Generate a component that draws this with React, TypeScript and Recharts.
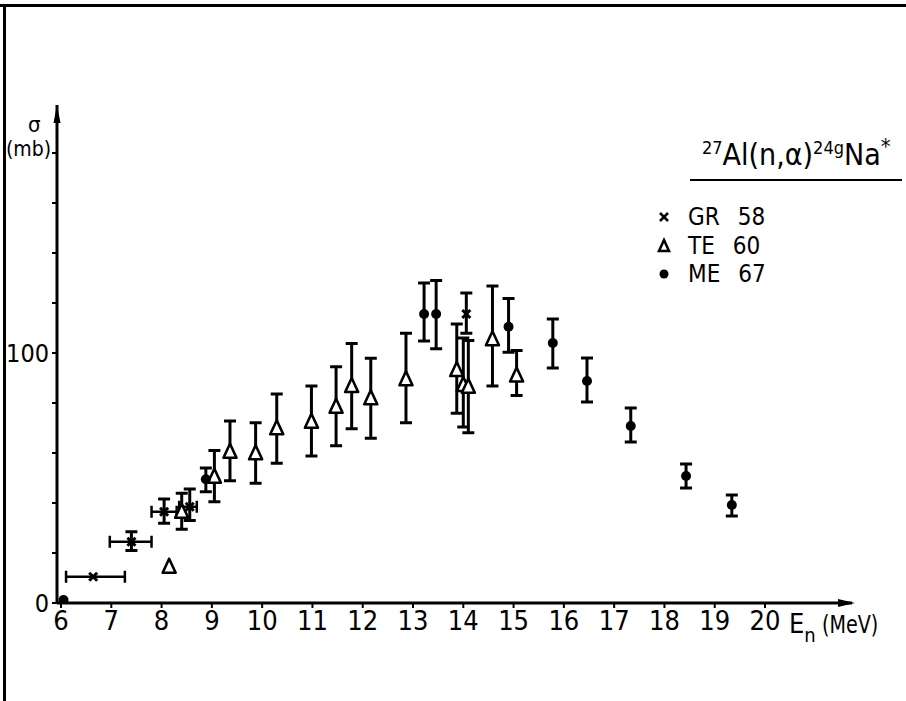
import React from 'react';
import { ScatterChart, Scatter, XAxis, YAxis, ErrorBar, ReferenceDot, Legend } from 'recharts';

// E_n (MeV), sigma (mb), errors as [minus, plus]
const grEnergy = [6.64, 7.4, 8.05, 8.56, 14.06];
const grSigma = [10.5, 24.5, 36.5, 38.5, 115.6];
const grSigmaErr: ([number, number] | null)[] = [null, [3.5, 4], [4.6, 5.1], [5.5, 7.1], [7.7, 8.4]];
const grEnergyErr: ([number, number] | null)[] = [[0.54, 0.63], [0.43, 0.4], [0.25, 0.25], [0.21, 0.14], null];

const teEnergy = [8.15, 8.4, 9.05, 9.36, 9.87, 10.29, 10.98, 11.47, 11.78, 12.16, 12.86, 13.87, 14.0, 14.1, 14.58, 15.06];
const teSigma = [14.5, 36.5, 50.5, 60.5, 59.9, 69.9, 72.5, 78.5, 86.8, 81.9, 89.5, 93.2, 87.2, 86.5, 105.5, 91];
const teSigmaErr: ([number, number] | null)[] = [
  null, [7, 7.4], [10, 10.5], [11.6, 12.3], [12, 12.2], [14, 13.7], [13.7, 14.3], [15.6, 16],
  [17.1, 17], [16, 16], [17.4, 18.4], [17.3, 18.4], [16.8, 18.8], [18.4, 18.5], [18.7, 21.3], [8, 10],
];

const meEnergy = [6.05, 8.88, 13.22, 13.46, 14.9, 15.78, 16.46, 17.33, 18.43, 19.34];
const meSigma = [1.2, 49.5, 115.6, 115.6, 110.5, 104, 88.8, 70.8, 50.8, 39.2];
const meSigmaErr: ([number, number] | null)[] = [
  null, [5, 4.5], [10.8, 12.4], [13.9, 13.4], [10.2, 11.3], [10, 9.6], [8.4, 9.2], [6.4, 7.2], [4.8, 4.8], [4.4, 4],
];

const xTicks = [6, 7, 8, 9, 10, 11, 12, 13, 14, 15, 16, 17, 18, 19, 20];
const yTicks = [0, 20, 40, 60, 80, 100, 120, 140, 160, 180];
const yLabelled = [0, 100];
const xMin = 5.92;
const xMax = 21.73;
const yMax = 199.2;

const legendItems = [
  { name: 'GR', year: '58', kind: 'cross' },
  { name: 'TE', year: '60', kind: 'triangle' },
  { name: 'ME', year: '67', kind: 'circle' },
];

const FONT = '"DejaVu Sans Condensed", "DejaVu Sans", sans-serif';

const grData = grEnergy.map((x, i) => ({ x, y: grSigma[i], ey: grSigmaErr[i], ex: grEnergyErr[i] }));
const teData = teEnergy.map((x, i) => ({ x, y: teSigma[i], ey: teSigmaErr[i] }));
const meData = meEnergy.map((x, i) => ({ x, y: meSigma[i], ey: meSigmaErr[i] }));

const Cross = (props: any) => {
  const { cx, cy } = props;
  const s = 4;
  return (
    <g stroke="#000" strokeWidth={3}>
      <line x1={cx - s} y1={cy - s} x2={cx + s} y2={cy + s} />
      <line x1={cx - s} y1={cy + s} x2={cx + s} y2={cy - s} />
    </g>
  );
};

const Triangle = (props: any) => {
  const { cx, cy } = props;
  return (
    <polygon
      points={`${cx},${cy - 8} ${cx - 6.5},${cy + 6} ${cx + 6.5},${cy + 6}`}
      fill="#fff"
      stroke="#000"
      strokeWidth={2.6}
      strokeLinejoin="round"
    />
  );
};

const Dot = (props: any) => <circle cx={props.cx} cy={props.cy} r={5} fill="#000" />;

const ArrowRight = (props: any) => (
  <polygon points={`${props.cx + 3},${props.cy} ${props.cx - 14},${props.cy - 4} ${props.cx - 14},${props.cy + 4}`} fill="#000" />
);
const ArrowUp = (props: any) => (
  <polygon points={`${props.cx},${props.cy} ${props.cx - 3.5},${props.cy + 18} ${props.cx + 3.5},${props.cy + 18}`} fill="#000" />
);

const LegendBox = () => (
  <div style={{ fontFamily: FONT, fontStretch: 'condensed', fontSize: 24, color: '#000' }}>
    {legendItems.map((it) => (
      <div key={it.name} style={{ display: 'flex', alignItems: 'center', height: 28.5 }}>
        <svg width={20} height={20} style={{ marginRight: 14 }}>
          {it.kind === 'cross' && (
            <g stroke="#000" strokeWidth={2.5}>
              <line x1={6} y1={6} x2={14} y2={14} />
              <line x1={6} y1={14} x2={14} y2={6} />
            </g>
          )}
          {it.kind === 'triangle' && <polygon points="10,4 5,15 15,15" fill="#fff" stroke="#000" strokeWidth={2.5} />}
          {it.kind === 'circle' && <circle cx={10} cy={10} r={4.5} fill="#000" />}
        </svg>
        <span>{it.name}</span>
        <span style={{ marginLeft: 18 }}>{it.year}</span>
      </div>
    ))}
  </div>
);

const App: React.FC = () => {
  return (
    <div style={{ position: 'absolute', left: 0, top: 0, width: 906, height: 701, background: '#fff', overflow: 'hidden', fontStretch: 'condensed' }}>
      <div style={{ position: 'absolute', left: 0, top: 4, width: 906, height: 3, background: '#000' }} />
      <div style={{ position: 'absolute', left: 3, top: 4, width: 3, height: 697, background: '#000' }} />
      <ScatterChart width={906} height={701} margin={{ top: 105, right: 54, bottom: 0, left: 0 }}>
        <XAxis
          type="number"
          dataKey="x"
          domain={[xMin, xMax]}
          ticks={xTicks}
          allowDataOverflow
          height={98}
          tickSize={5}
          tickMargin={3}
          axisLine={{ stroke: '#000', strokeWidth: 3 }}
          tickLine={{ stroke: '#000', strokeWidth: 2 }}
          tick={{ fill: '#000', fontSize: 27, fontFamily: FONT }}
        />
        <YAxis
          type="number"
          dataKey="y"
          domain={[0, yMax]}
          ticks={yTicks}
          allowDataOverflow
          width={57}
          tickSize={5}
          tickMargin={3}
          tickFormatter={(v: number) => (yLabelled.includes(v) ? String(v) : '')}
          axisLine={{ stroke: '#000', strokeWidth: 3 }}
          tickLine={{ stroke: '#000', strokeWidth: 2 }}
          tick={{ fill: '#000', fontSize: 25, fontFamily: FONT }}
        />
        <Legend
          verticalAlign="middle"
          align="center"
          layout="horizontal"
          wrapperStyle={{ top: 203, left: 654, width: 150 }}
          content={() => <LegendBox />}
        />
        <Scatter name="GR 58" data={grData} shape={Cross} isAnimationActive={false}>
          <ErrorBar dataKey="ex" direction="x" width={6} stroke="#000" strokeWidth={2.5} />
          <ErrorBar dataKey="ey" direction="y" width={6} stroke="#000" strokeWidth={3} />
        </Scatter>
        <Scatter name="TE 60" data={teData} shape={Triangle} isAnimationActive={false}>
          <ErrorBar dataKey="ey" direction="y" width={6} stroke="#000" strokeWidth={3} />
        </Scatter>
        <Scatter name="ME 67" data={meData} shape={Dot} isAnimationActive={false}>
          <ErrorBar dataKey="ey" direction="y" width={6} stroke="#000" strokeWidth={3} />
        </Scatter>
        <ReferenceDot x={xMax} y={0} r={0} shape={ArrowRight} ifOverflow="visible" />
        <ReferenceDot x={xMin} y={yMax} r={0} shape={ArrowUp} ifOverflow="visible" />
      </ScatterChart>

      <div style={{ position: 'absolute', left: 702, top: 136, fontFamily: FONT, fontSize: 30, color: '#000', whiteSpace: 'nowrap', lineHeight: 1 }}>
        <sup style={{ fontSize: 18 }}>27</sup>Al(n,α)<sup style={{ fontSize: 18 }}>24g</sup>Na<sup style={{ fontSize: 22 }}>*</sup>
      </div>
      <div style={{ position: 'absolute', left: 690, top: 179, width: 212, height: 2, background: '#000' }} />

      <div style={{ position: 'absolute', left: 28, top: 114, fontFamily: FONT, fontSize: 22, color: '#000', lineHeight: 1 }}>σ</div>
      <div style={{ position: 'absolute', left: 6, top: 139, fontFamily: FONT, fontSize: 21, color: '#000', lineHeight: 1 }}>(mb)</div>

      <div style={{ position: 'absolute', left: 789, top: 610, fontFamily: FONT, fontSize: 27, color: '#000', lineHeight: 1, whiteSpace: 'nowrap' }}>
        E<span style={{ fontSize: 20, position: 'relative', top: 9 }}>n</span>
        <span style={{ display: 'inline-block', fontSize: 25, marginLeft: 6, transform: 'scaleX(0.85)', transformOrigin: 'left center' }}>(MeV)</span>
      </div>
    </div>
  );
};

export default App;
